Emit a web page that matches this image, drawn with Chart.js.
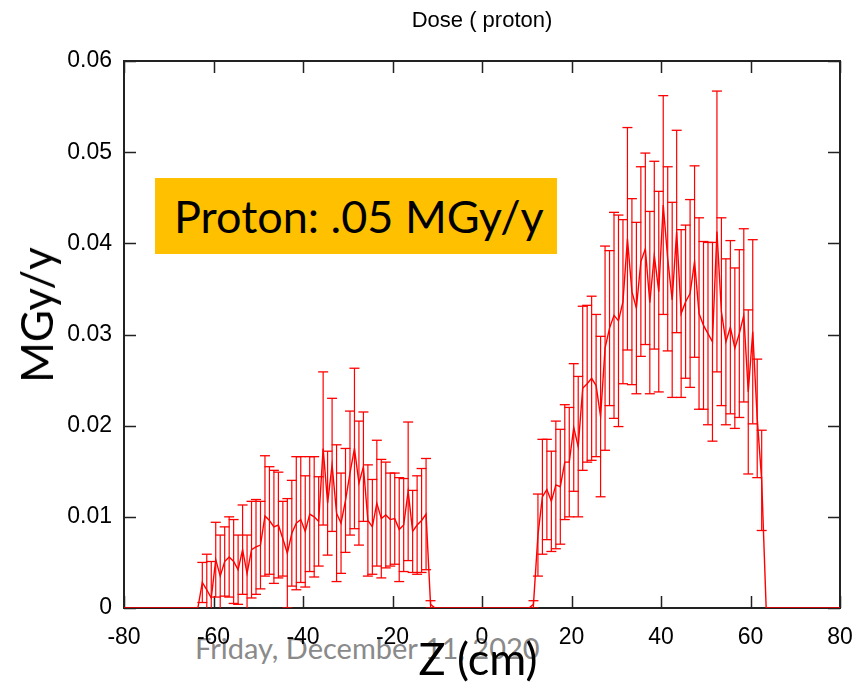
<!DOCTYPE html>
<html>
<head>
<meta charset="utf-8">
<script src="https://cdn.jsdelivr.net/npm/chart.js@4.4.1/dist/chart.umd.min.js"></script>
<style>
html, body { margin: 0; padding: 0; background: #ffffff; }
#wrap { position: relative; width: 852px; height: 683px; overflow: hidden; background: #ffffff; }
#c { position: absolute; left: 0; top: 0; z-index: 1; }
.footer { position: absolute; left: 195px; top: 630px; font-family: Lato, "Open Sans", sans-serif; font-size: 29px; color: #8a8a8a; white-space: nowrap; z-index: 0; }
.ytitle { position: absolute; left: 36px; top: 315px; transform: translate(-50%, -50%) rotate(-90deg); font-family: Lato, "Open Sans", sans-serif; font-size: 44px; color: #000; white-space: nowrap; z-index: 2; }
.xtitle { position: absolute; left: 478px; top: 658px; transform: translate(-50%, -50%); font-family: Lato, "Open Sans", sans-serif; font-size: 45px; color: #000; white-space: nowrap; z-index: 2; }
.note { position: absolute; left: 155px; top: 178px; width: 402px; height: 76px; background: #FFC000; font-family: Lato, "Open Sans", sans-serif; font-size: 45px; line-height: 76px; color: #000; box-sizing: border-box; padding-left: 19px; white-space: nowrap; z-index: 2; }
</style>
</head>
<body>
<div id="wrap">
  <div class="footer">Friday, December 11, 2020</div>
  <canvas id="c" width="852" height="683"></canvas>
  <div class="note">Proton: .05 MGy/y</div>
  <div class="ytitle">MGy/y</div>
  <div class="xtitle">Z (cm)</div>
</div>
<script>
// ---- data ----
const leftZ = [-63.5, -62.5, -61.5, -60.5, -59.5, -58.5, -57.5, -56.5, -55.5, -54.5,
  -53.5, -52.5, -51.5, -50.5, -49.5, -48.5, -47.5, -46.5, -45.5, -44.5,
  -43.5, -42.5, -41.5, -40.5, -39.5, -38.5, -37.5, -36.5, -35.5, -34.5,
  -33.5, -32.5, -31.5, -30.5, -29.5, -28.5, -27.5, -26.5, -25.5, -24.5,
  -23.5, -22.5, -21.5, -20.5, -19.5, -18.5, -17.5, -16.5, -15.5, -14.5,
  -13.5, -12.5, -11.5, -10.5];
const leftDose = [0, 0.0028, 0.0020, 0.0011, 0.0053, 0.0035, 0.0051, 0.0056, 0.0051, 0.0042,
  0.0064, 0.0038, 0.0064, 0.0067, 0.0069, 0.0101, 0.0096, 0.0089, 0.0091, 0.0076,
  0.0060, 0.0082, 0.0093, 0.0097, 0.0084, 0.0103, 0.0100, 0.0095, 0.0175, 0.0115,
  0.0157, 0.0104, 0.0093, 0.0118, 0.0148, 0.0175, 0.0137, 0.0155, 0.0096, 0.0089,
  0.0115, 0.0098, 0.0102, 0.0097, 0.0098, 0.0086, 0.0091, 0.0128, 0.0084, 0.0091,
  0.0096, 0.0103, 0.0004, 0];
const leftErr = [0, 0.0022, 0.0039, 0.0040, 0.0041, 0.0045, 0.0038, 0.0044, 0.0046, 0.0038,
  0.0049, 0.0042, 0.0053, 0.0052, 0.0048, 0.0066, 0.0059, 0.0062, 0.0058, 0.0041,
  0.0060, 0.0058, 0.0073, 0.0069, 0.0061, 0.0063, 0.0066, 0.0049, 0.0084, 0.0057,
  0.0073, 0.0075, 0.0055, 0.0057, 0.0068, 0.0088, 0.0068, 0.0060, 0.0061, 0.0052,
  0.0069, 0.0065, 0.0058, 0.0051, 0.0050, 0.0057, 0.0051, 0.0076, 0.0045, 0.0054,
  0.0057, 0.0061, 0.0004, 0];

const rightZ = [10.5, 11.5, 12.5, 13.5, 14.5, 15.5, 16.5, 17.5, 18.5, 19.5,
  20.5, 21.5, 22.5, 23.5, 24.5, 25.5, 26.5, 27.5, 28.5, 29.5,
  30.5, 31.5, 32.5, 33.5, 34.5, 35.5, 36.5, 37.5, 38.5, 39.5,
  40.5, 41.5, 42.5, 43.5, 44.5, 45.5, 46.5, 47.5, 48.5, 49.5,
  50.5, 51.5, 52.5, 53.5, 54.5, 55.5, 56.5, 57.5, 58.5, 59.5,
  60.5, 61.5, 62.5, 63.5];
const rightDose = [0, 0.0004, 0.0080, 0.0122, 0.0130, 0.0117, 0.0135, 0.0133, 0.0160, 0.0160,
  0.0198, 0.0177, 0.0241, 0.0246, 0.0252, 0.0244, 0.0210, 0.0285, 0.0307, 0.0321,
  0.0315, 0.0336, 0.0405, 0.0347, 0.0329, 0.0380, 0.0394, 0.0335, 0.0387, 0.0347,
  0.0442, 0.0383, 0.0338, 0.0413, 0.0323, 0.0336, 0.0345, 0.0380, 0.0323, 0.0310,
  0.0301, 0.0292, 0.0413, 0.0325, 0.0292, 0.0308, 0.0285, 0.0301, 0.0321, 0.0237,
  0.0303, 0.0208, 0.0140, 0];
const rightErr = [0, 0.0004, 0.0045, 0.0063, 0.0055, 0.0055, 0.0070, 0.0063, 0.0063, 0.0060,
  0.0070, 0.0077, 0.0090, 0.0086, 0.0090, 0.0078, 0.0088, 0.0112, 0.0085, 0.0113,
  0.0116, 0.0090, 0.0122, 0.0102, 0.0094, 0.0104, 0.0105, 0.0100, 0.0103, 0.0110,
  0.0120, 0.0101, 0.0107, 0.0111, 0.0092, 0.0084, 0.0103, 0.0105, 0.0105, 0.0092,
  0.0100, 0.0109, 0.0154, 0.0103, 0.0091, 0.0095, 0.0088, 0.0092, 0.0095, 0.0090,
  0.0101, 0.0065, 0.0055, 0];

const zRange = [-80, 80];
const xTickLabels = ['-80', '-60', '-40', '-20', '0', '20', '40', '60', '80'];
const yTickLabels = ['0', '0.01', '0.02', '0.03', '0.04', '0.05', '0.06'];

// ---- build datasets from the arrays ----
const allZ = leftZ.concat(rightZ);
const allDose = leftDose.concat(rightDose);
const allErr = leftErr.concat(rightErr);

const meanLine = [{x: zRange[0], y: 0}];
allZ.forEach((z, i) => meanLine.push({x: z, y: allDose[i]}));
meanLine.push({x: zRange[1], y: 0});

const stems = [];
const lowCaps = [];
const highCaps = [];
allZ.forEach((z, i) => {
  if (allErr[i] > 0) {
    const lo = allDose[i] - allErr[i];
    const hi = allDose[i] + allErr[i];
    stems.push({x: z, y: lo}, {x: z, y: hi}, {x: z, y: null});
    lowCaps.push({x: z, y: lo});
    highCaps.push({x: z, y: hi});
  }
});

const RED = '#ff0000';
const FRAME = '#222222';

const framePlugin = {
  id: 'gnuplotFrame',
  beforeDatasetsDraw(chart) {
    const {ctx, chartArea: a, scales} = chart;
    const tl = 12;
    ctx.save();
    ctx.strokeStyle = FRAME;
    ctx.lineWidth = 1.5;
    ctx.beginPath();
    scales.x.ticks.forEach(t => {
      const px = Math.round(scales.x.getPixelForValue(t.value)) + 0.5;
      ctx.moveTo(px, a.bottom); ctx.lineTo(px, a.bottom - tl);
      ctx.moveTo(px, a.top); ctx.lineTo(px, a.top + tl);
    });
    scales.y.ticks.forEach(t => {
      const py = Math.round(scales.y.getPixelForValue(t.value)) + 0.5;
      ctx.moveTo(a.left, py); ctx.lineTo(a.left + tl, py);
      ctx.moveTo(a.right, py); ctx.lineTo(a.right - tl, py);
    });
    ctx.stroke();
    ctx.lineWidth = 2;
    ctx.strokeRect(a.left, a.top, a.right - a.left, a.bottom - a.top);
    ctx.restore();
  }
};

new Chart(document.getElementById('c'), {
  type: 'line',
  data: {
    datasets: [
      {
        label: 'error bars',
        data: stems,
        borderColor: RED,
        borderWidth: 1.2,
        pointRadius: 0,
        spanGaps: false,
        tension: 0,
        clip: 0
      },
      {
        label: 'lower caps',
        data: lowCaps,
        showLine: false,
        pointStyle: 'line',
        pointRadius: 5,
        pointBorderWidth: 1.3,
        pointBorderColor: RED,
        borderColor: RED,
        clip: 0
      },
      {
        label: 'upper caps',
        data: highCaps,
        showLine: false,
        pointStyle: 'line',
        pointRadius: 5,
        pointBorderWidth: 1.3,
        pointBorderColor: RED,
        borderColor: RED,
        clip: 0
      },
      {
        label: 'Dose ( proton)',
        data: meanLine,
        borderColor: RED,
        borderWidth: 1.4,
        pointRadius: 0,
        tension: 0,
        clip: 0
      }
    ]
  },
  options: {
    responsive: false,
    animation: false,
    devicePixelRatio: 1,
    events: [],
    layout: { padding: { left: 0, right: 0, top: 0, bottom: 0 } },
    plugins: {
      legend: { display: false },
      tooltip: { enabled: false },
      title: {
        display: true,
        text: 'Dose ( proton)',
        fullSize: false,
        color: '#000',
        font: { family: '"Liberation Sans", Arial, sans-serif', size: 22, weight: 'normal', lineHeight: 1.2 },
        padding: { top: 8, bottom: 26.6 }
      }
    },
    scales: {
      x: {
        type: 'linear',
        min: -80,
        max: 80,
        grid: { display: false },
        border: { display: false },
        ticks: {
          stepSize: 20,
          autoSkip: false,
          maxRotation: 0,
          padding: 8,
          color: '#000',
          font: { family: '"Liberation Sans", Arial, sans-serif', size: 23 },
          callback: (v, i) => xTickLabels[i]
        },
        afterFit: (s) => { s.height = 75; s.paddingRight = 12; s.paddingLeft = 0; }
      },
      y: {
        type: 'linear',
        min: 0,
        max: 0.06,
        grid: { display: false },
        border: { display: false },
        ticks: {
          stepSize: 0.01,
          autoSkip: false,
          padding: 4,
          color: '#000',
          font: { family: '"Liberation Sans", Arial, sans-serif', size: 23 },
          callback: (v, i) => yTickLabels[i]
        },
        afterFit: (s) => { s.width = 124; }
      }
    }
  },
  plugins: [framePlugin]
});
</script>
</body>
</html>
